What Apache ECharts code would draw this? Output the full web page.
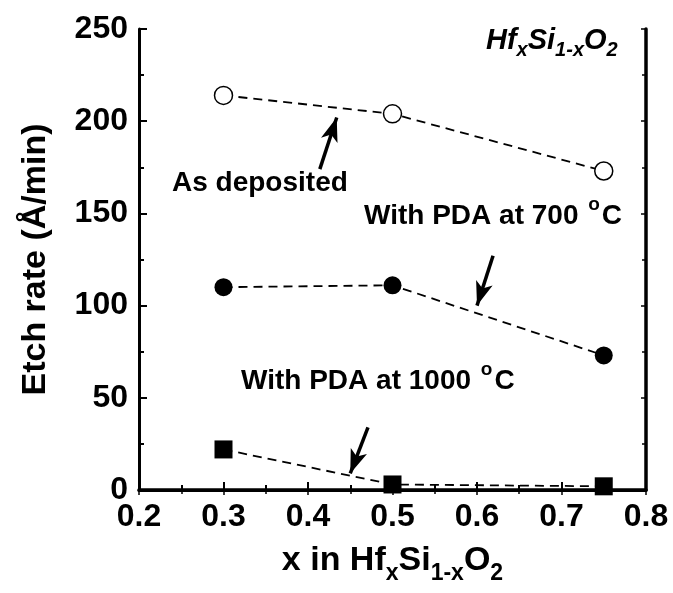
<!DOCTYPE html>
<html>
<head>
<meta charset="utf-8">
<script src="https://cdn.jsdelivr.net/npm/echarts@6/dist/echarts.min.js"></script>
<style>
  html, body { margin: 0; padding: 0; background: #fff; }
  #chart { width: 673px; height: 593px; }
</style>
</head>
<body>
<div id="chart"></div>
<script>
// data
var xValues = [0.3, 0.5, 0.75]
var asDeposited = [214, 204, 173]
var pda700 = [110, 111, 73]
var pda1000 = [22, 3, 2]

// annotation arrows: [tail, tip] in data units
var arrowDeposited = [[0.414, 174], [0.434, 202]]
var arrow700 = [[0.619, 127], [0.600, 100]]
var arrow1000 = [[0.471, 34], [0.450, 9]]

var FONT = '"Liberation Sans", Arial, sans-serif'

function pairs (xs, ys) {
  return xs.map(function (x, i) { return [x, ys[i]] })
}

function arrowLine (a) {
  return [{ coord: a[0], symbol: 'none' }, { coord: a[1], symbol: 'arrow' }]
}

var chart = echarts.init(document.getElementById('chart'))

var axisBase = {
  type: 'value',
  axisLine: { show: true, lineStyle: { color: '#000', width: 3 } },
  axisTick: { show: true, inside: true, length: 8, lineStyle: { color: '#000', width: 2 } },
  minorTick: { show: true, splitNumber: 2, length: 5, lineStyle: { color: '#000', width: 2 } },
  splitLine: { show: false }
}

// mirrored axes on top / right: small ticks only
var mirrorBase = {
  axisLine: { show: true, lineStyle: { color: '#000', width: 3.5 } },
  axisTick: { show: true, inside: true, length: 5, lineStyle: { color: '#000', width: 1.5 } },
  minorTick: { show: true, splitNumber: 2, length: 4, lineStyle: { color: '#000', width: 1.5 } },
  axisLabel: { show: false }
}

var dashed = { color: '#000', width: 1.8, type: [9, 6] }
var supRich = {
  t: { font: 'bold 28px ' + FONT, fill: '#000', lineHeight: 40, verticalAlign: 'middle' },
  o: { font: 'bold 19px ' + FONT, fill: '#000', lineHeight: 19, verticalAlign: 'bottom', padding: [0, 2, 22, 2] }
}

chart.setOption({
  animation: false,
  grid: { left: 139, right: 27, top: 29, bottom: 103 },
  xAxis: [
    Object.assign({}, axisBase, {
      min: 0.2, max: 0.8, interval: 0.1,
      axisLabel: {
        color: '#000', fontFamily: FONT, fontWeight: 'bold', fontSize: 32, margin: 11,
        formatter: function (v) { return v.toFixed(1) }
      },
      name: 'x in Hf{s|x}Si{s|1-x}O{s|2}',
      nameLocation: 'middle',
      nameGap: 46,
      nameTextStyle: {
        color: '#000', fontFamily: FONT, fontWeight: 'bold', fontSize: 34, verticalAlign: 'top',
        rich: {
          s: { fontFamily: FONT, fontWeight: 'bold', fontSize: 23, color: '#000', verticalAlign: 'bottom', padding: [26, 0, 0, 0] }
        }
      }
    }),
    Object.assign({}, axisBase, mirrorBase, { position: 'top', min: 0.2, max: 0.8, interval: 0.1 })
  ],
  yAxis: [
    Object.assign({}, axisBase, {
      min: 0, max: 250, interval: 50,
      axisLabel: { color: '#000', fontFamily: FONT, fontWeight: 'bold', fontSize: 32, margin: 11 },
      name: 'Etch rate (Å/min)',
      nameLocation: 'middle',
      nameRotate: 90,
      nameGap: 86,
      nameTextStyle: { color: '#000', fontFamily: FONT, fontWeight: 'bold', fontSize: 34 }
    }),
    Object.assign({}, axisBase, mirrorBase, { position: 'right', min: 0, max: 250, interval: 50 })
  ],
  series: [
    {
      name: 'As deposited',
      type: 'line',
      data: pairs(xValues, asDeposited),
      symbol: 'circle',
      symbolSize: 18,
      lineStyle: dashed,
      itemStyle: { color: '#fff', borderColor: '#000', borderWidth: 1.5 },
      z: 3,
      markLine: {
        silent: true, symbolSize: [13, 24], label: { show: false },
        lineStyle: { color: '#000', width: 3.5, type: 'solid' },
        data: [arrowLine(arrowDeposited), arrowLine(arrow700), arrowLine(arrow1000)]
      }
    },
    {
      name: 'With PDA at 700 °C',
      type: 'line',
      data: pairs(xValues, pda700),
      symbol: 'circle',
      symbolSize: 18,
      lineStyle: dashed,
      itemStyle: { color: '#000' },
      z: 3
    },
    {
      name: 'With PDA at 1000 °C',
      type: 'line',
      data: pairs(xValues, pda1000),
      symbol: 'rect',
      symbolSize: 18,
      lineStyle: dashed,
      itemStyle: { color: '#000' },
      z: 3
    }
  ],
  graphic: [
    {
      type: 'text', left: 486, top: 26,
      style: {
        text: 'Hf{s|x}Si{s|1-x}O{s|2}',
        fill: '#000', font: 'italic bold 29px ' + FONT,
        rich: { s: { font: 'italic bold 20px ' + FONT, fill: '#000', verticalAlign: 'bottom', padding: [20, 0, 0, 0] } }
      }
    },
    {
      type: 'text', left: 172, top: 169,
      style: { text: 'As deposited', fill: '#000', font: 'bold 28px ' + FONT }
    },
    {
      type: 'text', left: 364, top: 195,
      style: { text: '{t|With PDA at 700 }{o|o}{t|C}', fill: '#000', font: 'bold 28px ' + FONT, rich: supRich }
    },
    {
      type: 'text', left: 241, top: 360,
      style: { text: '{t|With PDA at 1000 }{o|o}{t|C}', fill: '#000', font: 'bold 28px ' + FONT, rich: supRich }
    }
  ]
})
</script>
</body>
</html>
